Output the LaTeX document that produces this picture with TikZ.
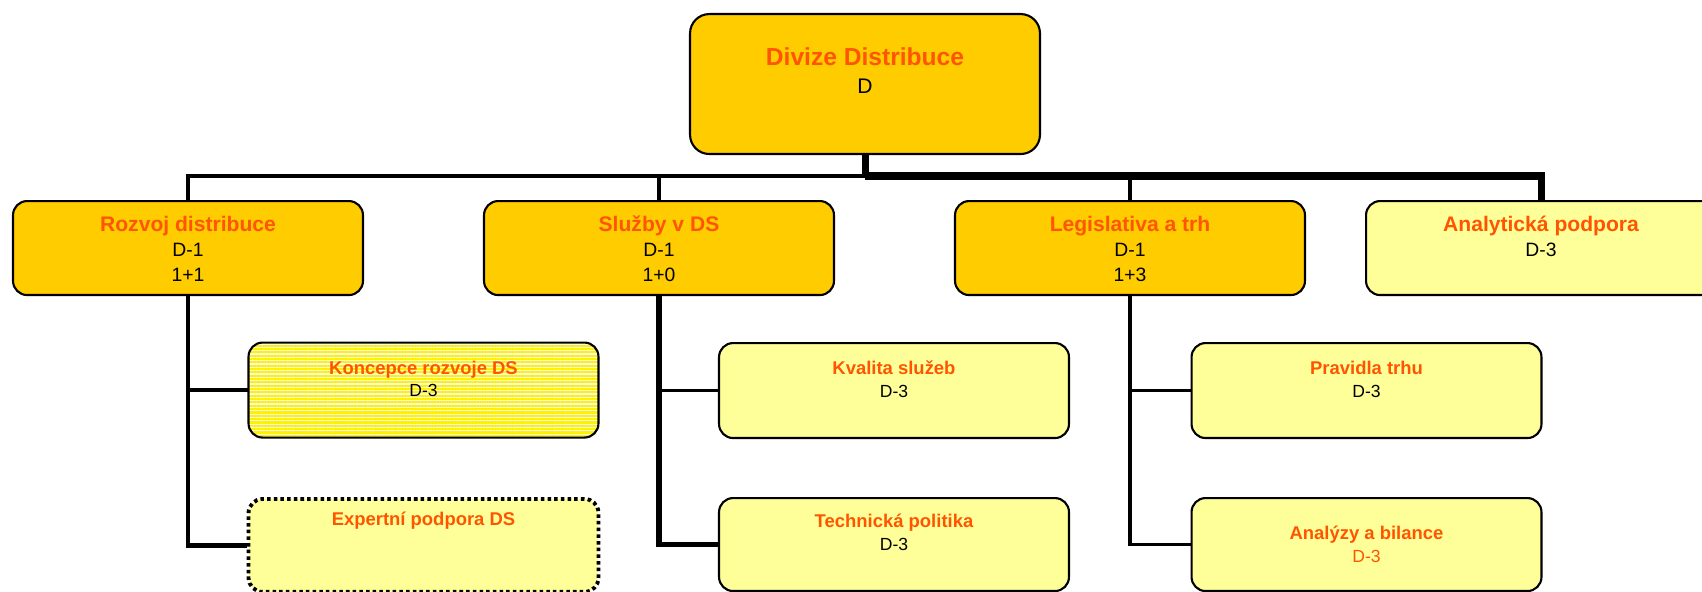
\documentclass[tikz,border=0pt]{standalone}
\usepackage{fontspec}
\setmainfont{Liberation Sans}
\usepackage{tikz}
\usetikzlibrary{patterns.meta}
\definecolor{divgold}{RGB}{255,204,0}
\definecolor{paleyellow}{RGB}{255,255,153}
\definecolor{unitred}{RGB}{255,85,0}
\newcommand{\unithead}[3]{\rule{0pt}{#1}{\fontsize{#2}{14pt}\selectfont\bfseries\color{unitred}#3}\par}
\tikzset{
  unit/.style={draw, line width=1.2pt, rounded corners=8pt, inner sep=0pt, anchor=north,
    execute at begin node={\begin{minipage}[c][#1][t]{7cm}\centering},
    execute at end node={\end{minipage}}},
  topunit/.style={unit=2.8cm, fill=divgold, rounded corners=11pt, font=\fontsize{12}{16.2}\selectfont},
  mainunit/.style={unit=1.88cm, fill=divgold, font=\fontsize{11}{14.2}\selectfont},
  subunit/.style={unit=#1, fill=paleyellow, font=\fontsize{10}{12.9}\selectfont},
  thinlink/.style={line width=2pt},
  midlink/.style={line width=2.5pt},
  thicklink/.style={line width=3.3pt},
  heavylink/.style={line width=4pt}
}

\begin{document}
\begin{tikzpicture}[x=0.02cm,y=-0.02cm]
\useasboundingbox (0,0) rectangle (1702,591);
% division
\node[topunit] (divize) at (865,13) {\unithead{29pt}{14}{Divize Distribuce}D};
% row 1 of units
\node[mainunit] (rozvoj) at (188,200) {\unithead{17.4pt}{12}{Rozvoj distribuce}D-1\\1+1};
\node[mainunit] (sluzby) at (659,200) {\unithead{17.4pt}{12}{Služby v DS}D-1\\1+0};
\node[mainunit] (legislativa) at (1130,200) {\unithead{17.4pt}{12}{Legislativa a trh}D-1\\1+3};
\node[mainunit, fill=paleyellow] (analyticka) at (1541,200) {\unithead{17.4pt}{12}{Analytická podpora}D-3};
% row 2 of units
\node[subunit=1.9cm, fill=none, preaction={fill=yellow},
  pattern={Lines[angle=0,distance=1.9pt,line width=0.65pt]}, pattern color=white]
  (koncepce) at (423.5,342) {\unithead{18pt}{10.5}{Koncepce rozvoje DS}D-3};
\node[subunit=1.9cm] (kvalita) at (894,342) {\unithead{18pt}{10.5}{Kvalita služeb}D-3};
\node[subunit=1.9cm] (pravidla) at (1366.5,342) {\unithead{18pt}{10.5}{Pravidla trhu}D-3};
% row 3 of units
\node[subunit=1.86cm, line width=2.2pt, dash pattern=on 2pt off 1.8pt] (expertni) at (423.5,497) {\unithead{15.4pt}{10.5}{Expertní podpora DS}};
\node[subunit=1.86cm] (technicka) at (894,497) {\unithead{17pt}{10.5}{Technická politika}D-3};
\node[subunit=1.86cm] (analyzy) at (1366.5,497) {\unithead{23.6pt}{10.5}{Analýzy a bilance}\textcolor{unitred}{D-3}};
% bus
\coordinate (hub) at (865,176);
\draw[heavylink] (divize) -- (hub);
\draw[midlink] (hub) -| (rozvoj);
\draw[heavylink] (hub) -| (analyticka);
\draw[thinlink] (sluzby) -- (sluzby |- hub);
\draw[thinlink] (legislativa) -- (legislativa |- hub);
% branches
\draw[midlink] (rozvoj) |- (expertni);
\draw[midlink] (rozvoj |- koncepce) -- (koncepce);
\draw[thicklink] (sluzby) |- (technicka);
\draw[thinlink] (sluzby |- kvalita) -- (kvalita);
\draw[thinlink] (legislativa) |- (analyzy);
\draw[thinlink] (legislativa |- pravidla) -- (pravidla);
\end{tikzpicture}
\end{document}
